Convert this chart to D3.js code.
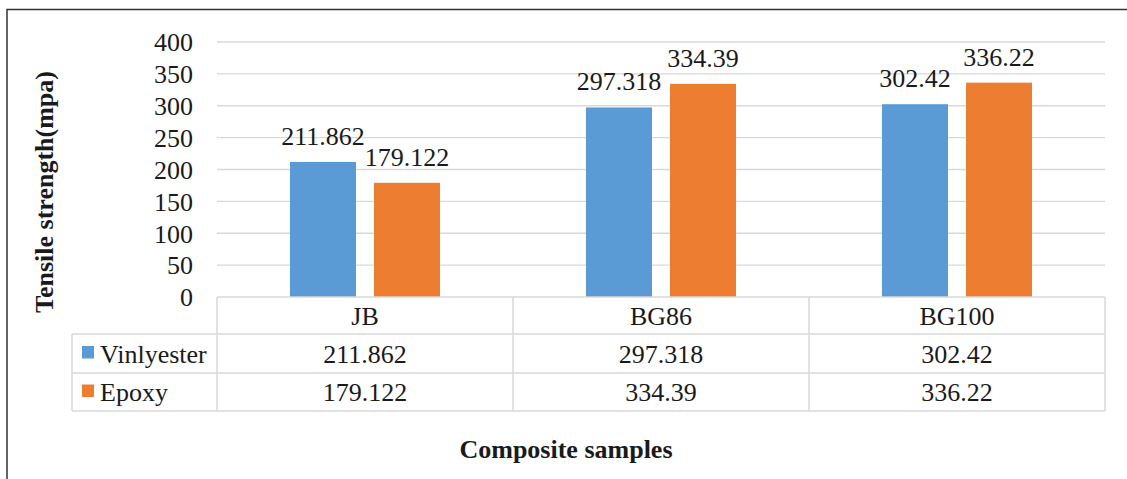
<!DOCTYPE html>
<html><head><meta charset="utf-8">
<script src="https://cdn.jsdelivr.net/npm/d3@7/dist/d3.min.js"></script>
<style>body{margin:0;background:#fff}svg{display:block}</style>
</head><body>
<script>
const categories = ["JB", "BG86", "BG100"];
const seriesNames = ["Vinlyester", "Epoxy"];
const vinlyester = [211.862, 297.318, 302.42];
const epoxy = [179.122, 334.39, 336.22];
const yTicks = [0, 50, 100, 150, 200, 250, 300, 350, 400];
const colors = ["#5B9BD5", "#ED7D31"];
const values = [vinlyester, epoxy];

const FONT = "'Liberation Serif', 'Times New Roman', Tinos, serif";
const W = 1127, H = 479;
const svg = d3.select("body").append("svg").attr("width", W).attr("height", H);

// outer frame (left and top visible)
svg.append("path").attr("d", "M7,480 L7,9.5 L1130,9.5").attr("fill","none").attr("stroke","#333").attr("stroke-width",1.5);

const x = d3.scaleBand().domain(categories).range([217, 1105]).padding(0);
const y = d3.scaleLinear().domain([0, 400]).range([297, 42]);
const bw = x.bandwidth();
const xs = d3.scaleBand().domain(seriesNames).range([bw*0.2466, bw*0.7534]).paddingInner(18/84);

// gridlines
svg.append("g").selectAll("line").data(yTicks.filter(d=>d>0)).join("line")
  .attr("x1", 217).attr("x2", 1105).attr("y1", d=>y(d)).attr("y2", d=>y(d))
  .attr("stroke", "#d9d9d9").attr("stroke-width", 1.3);

// y axis labels
const yAxis = d3.axisLeft(y).tickValues(yTicks).tickSize(0).tickPadding(0);
const ya = svg.append("g").attr("transform","translate(193,0)").call(yAxis);
ya.select(".domain").remove();
ya.attr("font-family", null).attr("font-size", null);
ya.selectAll("text").attr("dy","0.34em");

// bars
const rows = [];
seriesNames.forEach((s,si)=>categories.forEach((c,ci)=>rows.push({s, si, c, v: values[si][ci]})));
svg.append("g").selectAll("rect").data(rows).join("rect")
  .attr("x", d=>x(d.c)+xs(d.s)).attr("width", xs.bandwidth())
  .attr("y", d=>y(d.v)).attr("height", d=>y(0)-y(d.v))
  .attr("fill", d=>colors[d.si]);

// data labels
svg.append("g").selectAll("text").data(rows).join("text")
  .attr("x", d=>x(d.c)+xs(d.s)+xs.bandwidth()/2).attr("y", d=>y(d.v)-17)
  .attr("text-anchor","middle").text(d=>d.v);

// data table
const rowY = [297, 334, 373, 411];
const tg = svg.append("g").attr("stroke","#d9d9d9").attr("stroke-width",1.5);
tg.append("line").attr("x1",217).attr("x2",1105).attr("y1",rowY[0]).attr("y2",rowY[0]);
[1,2,3].forEach(i=>tg.append("line").attr("x1",72).attr("x2",1105).attr("y1",rowY[i]).attr("y2",rowY[i]));
tg.append("line").attr("x1",72).attr("x2",72).attr("y1",rowY[1]).attr("y2",rowY[3]);
[...categories.map(c=>x(c)), 1105].forEach(xx=>tg.append("line").attr("x1",xx).attr("x2",xx).attr("y1",rowY[0]).attr("y2",rowY[3]));

// category labels
svg.append("g").selectAll("text").data(categories).join("text")
  .attr("x", c=>x(c)+bw/2).attr("y", (rowY[0]+rowY[1])/2+9)
  .attr("text-anchor","middle").text(c=>c);

// value rows
seriesNames.forEach((s,si)=>{
  const cy = (rowY[si+1]+rowY[si+2])/2;
  svg.append("rect").attr("x",82).attr("y",cy-7.5).attr("width",12).attr("height",12.5).attr("fill",colors[si]);
  svg.append("text").attr("x",100).attr("y",cy+9).text(s);
  svg.append("g").selectAll("text").data(categories).join("text")
    .attr("x", c=>x(c)+bw/2).attr("y", cy+9).attr("text-anchor","middle")
    .text((c,ci)=>values[si][ci]);
});

// axis titles
svg.append("text").attr("class","title").attr("transform","translate(53,192) rotate(-90)").attr("text-anchor","middle")
  .text("Tensile strength(mpa)");
svg.append("text").attr("class","title").attr("x",566).attr("y",458).attr("text-anchor","middle")
  .text("Composite samples");

svg.selectAll("text").style("font-family", FONT).style("font-size","26px").style("fill","#1a1a1a");
svg.selectAll("text.title").style("font-size","26px").style("font-weight","bold");
</script>
</body></html>
